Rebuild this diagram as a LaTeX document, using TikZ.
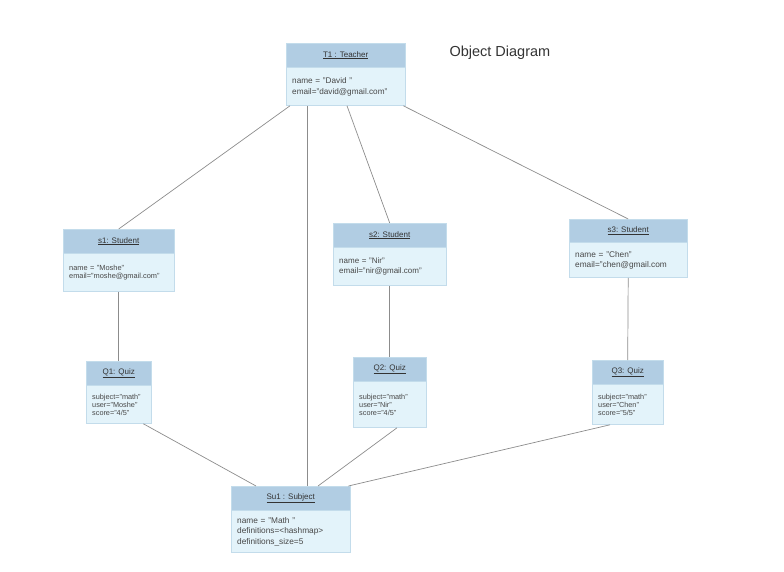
\documentclass[tikz,border=0pt]{standalone}
\usepackage{fontspec}
\setmainfont{Liberation Sans}
\usepackage{tikz}
\usetikzlibrary{calc}

\definecolor{headfill}{HTML}{B1CDE3}
\definecolor{bodyfill}{HTML}{E3F3FA}
\definecolor{boxline}{HTML}{C3DCEB}
\definecolor{linkgray}{HTML}{8C8C8C}
\definecolor{textgray}{HTML}{474747}

\tikzset{
  objhead/.style={draw=boxline,fill=headfill,text=black!80,anchor=north west,
    minimum height=24pt,inner sep=0pt,font=\fontsize{8}{10}\selectfont},
  objbody/.style={draw=boxline,fill=bodyfill,text=textgray,anchor=north,
    align=left,inner xsep=6pt,inner ysep=0pt},
  link/.style={draw=linkgray,line width=0.7pt}
}

\begin{document}
\begin{tikzpicture}[x=1pt,y=-1pt]
  % Boundary
  \path[use as bounding box] (0,0) rectangle (784,572);
  % Title
  \node[anchor=west,text=black!80,font=\fontsize{14.5}{16}\selectfont] (title) at (446,53) {Object Diagram};
  % Teacher
  \node[objhead,minimum width=119pt] (T1) at (286,43) {\underline{T1 : Teacher}};
  \node[objbody,text width=107pt,minimum height=38pt,font=\fontsize{8.2}{11}\selectfont] (T1a) at (T1.south)
    {name = "David "\\email="david@gmail.com"};
  % Students
  \node[objhead,minimum width=111pt] (s1) at (63,229) {\underline{s1: Student}};
  \node[objbody,text width=99pt,minimum height=38pt,font=\fontsize{7.4}{8}\selectfont] (s1a) at (s1.south)
    {name = "Moshe"\\email="moshe@gmail.com"};
  \node[objhead,minimum width=113pt] (s2) at (333,223) {\underline{s2: Student}};
  \node[objbody,text width=101pt,minimum height=38pt,font=\fontsize{8}{10}\selectfont] (s2a) at (s2.south)
    {name = "Nir"\\email="nir@gmail.com"};
  \node[objhead,minimum width=118pt,minimum height=23pt] (s3) at (569,219) {\underline{s3: Student}};
  \node[objbody,text width=106pt,minimum height=35pt,font=\fontsize{8.3}{10}\selectfont] (s3a) at (s3.south)
    {name = "Chen"\\email="chen@gmail.com};
  % Quizzes
  \node[objhead,minimum width=65pt] (Q1) at (86,361) {\underline{Q1: Quiz}};
  \node[objbody,text width=53pt,minimum height=38pt,font=\fontsize{7.3}{8}\selectfont] (Q1a) at (Q1.south)
    {subject="math"\\user="Moshe"\\score="4/5"};
  \node[objhead,minimum width=73pt] (Q2) at (353,357) {\underline{Q2: Quiz}};
  \node[objbody,text width=61pt,minimum height=46pt,font=\fontsize{7.3}{8}\selectfont] (Q2a) at (Q2.south)
    {subject="math"\\user="Nir"\\score="4/5"};
  \node[objhead,minimum width=71pt] (Q3) at (592,360) {\underline{Q3: Quiz}};
  \node[objbody,text width=59pt,minimum height=40pt,font=\fontsize{7.3}{8}\selectfont] (Q3a) at (Q3.south)
    {subject="math"\\user="Chen"\\score="5/5"};
  % Subject
  \node[objhead,minimum width=119pt] (Su1) at (231,486) {\underline{Su1 : Subject}};
  \node[objbody,text width=107pt,minimum height=42pt,font=\fontsize{8.3}{10.5}\selectfont] (Su1a) at (Su1.south)
    {name = "Math "\\definitions=<hashmap>\\definitions\_size=5};
  % Links
  \draw[link] ([xshift=4pt]T1a.south west) -- (s1.north);
  \draw[link] ([xshift=21pt]T1a.south west) -- ([xshift=21pt]T1a.south west |- Su1.north);
  \draw[link] ([xshift=61pt]T1a.south west) -- (s2.north);
  \draw[link] ([xshift=-2pt]T1a.south east) -- (s3.north);
  \draw[link] (s1a.south) -- (Q1.north);
  \draw[link] (s2a.south) -- (Q2.north);
  \draw[link] (s3a.south) -- (Q3.north);
  \draw[link] ([xshift=-8pt]Q1a.south east) -- ([xshift=25pt]Su1.north west);
  \draw[link] ([xshift=44pt]Q2a.south west) -- ([xshift=87pt]Su1.north west);
  \draw[link] ([xshift=18pt]Q3a.south west) -- ([xshift=-2pt]Su1.north east);
\end{tikzpicture}
\end{document}
